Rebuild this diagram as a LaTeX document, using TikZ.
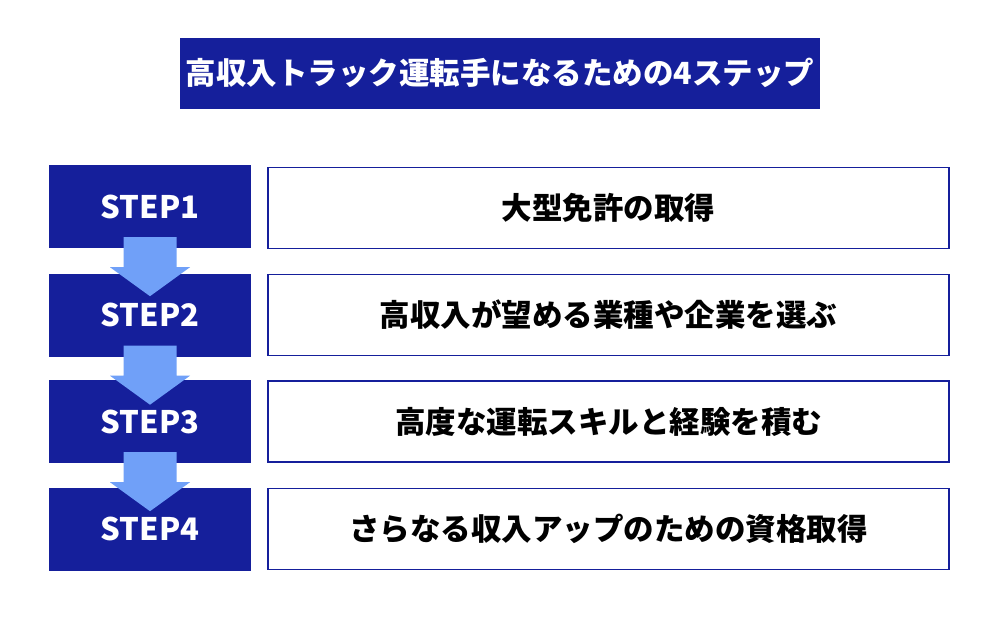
\documentclass[tikz,border=0pt]{standalone}
\usepackage{fontspec}
\setmainfont{Noto Sans CJK JP}
\usetikzlibrary{calc}
\definecolor{navy}{RGB}{21,31,155}
\definecolor{lightblue}{RGB}{112,160,248}
\tikzset{
  stepbox/.style={fill=navy, draw=none, minimum width=202pt, minimum height=83pt, inner sep=0pt,
    text=white, font=\fontsize{31}{31}\selectfont\bfseries},
  descbox/.style={fill=white, draw=navy, line width=1.8pt, minimum width=681pt, minimum height=81pt, inner sep=0pt,
    text=black, font=\fontsize{30.5}{30.5}\selectfont\bfseries},
  titlebox/.style={fill=navy, draw=none, minimum width=640pt, minimum height=71pt, inner sep=0pt,
    text=white, font=\fontsize{30.5}{30.5}\selectfont\bfseries},
  downarrow/.style={fill=lightblue, draw=none}
}
\begin{document}
\begin{tikzpicture}[x=1pt,y=-1pt]
\useasboundingbox (0,0) rectangle (1000,625);
\fill[white] (0,0) rectangle (1000,625);
\node[titlebox] (title) at (500,73) {高収入トラック運転手になるための4ステップ};
\node[stepbox] (s1) at (150,206.5) {};
\node[stepbox] (s2) at (150,315) {};
\node[stepbox] (s3) at (150,421.5) {};
\node[stepbox] (s4) at (150,529) {};
\node[descbox] (d1) at (608.5,208) {大型免許の取得};
\node[descbox] (d2) at (608.5,315) {高収入が望める業種や企業を選ぶ};
\node[descbox] (d3) at (608.5,421.5) {高度な運転スキルと経験を積む};
\node[descbox] (d4) at (608.5,529) {さらなる収入アップのための資格取得};
\foreach \a in {s1,s2,s3}{
  \fill[downarrow] ($(\a.south)+(-26.5,-11)$) -- ($(\a.south)+(26.5,-11)$) -- ($(\a.south)+(26.5,19)$)
    -- ($(\a.south)+(40,19)$) -- ($(\a.south)+(0,48)$) -- ($(\a.south)+(-40,19)$)
    -- ($(\a.south)+(-26.5,19)$) -- cycle;
}
\node[stepbox, fill=none] (t1) at (s1) {STEP1};
\node[stepbox, fill=none] (t2) at (s2) {STEP2};
\node[stepbox, fill=none] (t3) at (s3) {STEP3};
\node[stepbox, fill=none] (t4) at (s4) {STEP4};
\end{tikzpicture}
\end{document}
